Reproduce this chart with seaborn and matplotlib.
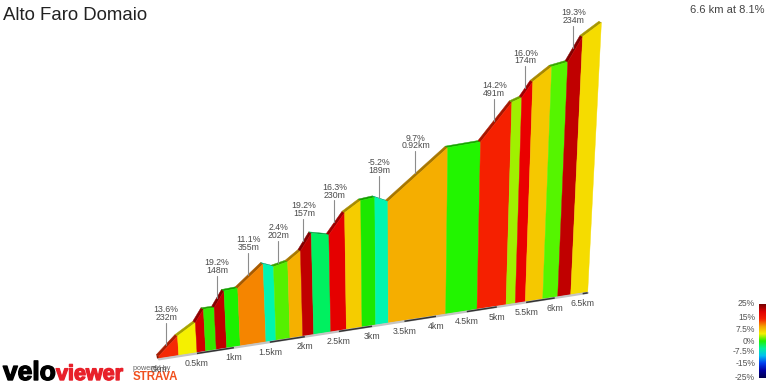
import numpy as np
import pandas as pd
import matplotlib
matplotlib.use('Agg')
import matplotlib.pyplot as plt
import matplotlib.patheffects as pe
import seaborn as sns

# profile: distance (km) and height above the base (m) at each colour change
km = [0.0, 0.258, 0.501, 0.617, 0.760, 0.902, 1.088, 1.446, 1.588, 1.787, 1.970, 2.129, 2.379,
      2.611, 2.847, 3.055, 3.249, 4.156, 4.669, 5.156, 5.314, 5.486, 5.789, 6.053, 6.285, 6.592]
elev = [4, 32.9, 51, 71.8, 71.9, 98.2, 99.7, 136.2, 129.3, 134.9, 151, 180.1, 173.6,
        210.5, 229.4, 232.6, 222.3, 312, 317.4, 388.9, 396.5, 426.1, 453.2, 460.7, 509.3, 535.5]
seg_colors = ['#F52A05', '#F5F000', '#D20000', '#33E800', '#C00000', '#1CF000', '#F58500',
              '#00F5B0', '#55F000', '#F5B000', '#C00000', '#00F060', '#E50000', '#F5CC00',
              '#1CE800', '#00F5B0', '#F5AE00', '#22F500', '#F52000', '#A0F000', '#EA0000',
              '#F5C800', '#55F500', '#C00000', '#F5DC00']

# callouts: which segment they belong to and the two text lines
label_segs = [0, 4, 6, 8, 10, 12, 15, 16, 18, 20, 23]
label_grade = ['13.6%', '19.2%', '11.1%', '2.4%', '19.2%', '16.3%', '-5.2%', '9.7%', '14.2%', '16.0%', '19.3%']
label_len = ['232m', '148m', '355m', '202m', '157m', '230m', '189m', '0.92km', '491m', '174m', '234m']

tick_km = [0, 0.5, 1, 1.5, 2, 2.5, 3, 3.5, 4, 4.5, 5, 5.5, 6, 6.5]
tick_labels = ['0km', '0.5km', '1km', '1.5km', '2km', '2.5km', '3km', '3.5km', '4km', '4.5km',
               '5km', '5.5km', '6km', '6.5km']

cbar_labels = ['25%', '15%', '7.5%', '0%', '-7.5%', '-15%', '-25%']
cbar_y = [303, 318, 330, 341, 352, 363, 378]
cbar_colors = ['#780000', '#E00000', '#F52000', '#F5A000', '#F5F000', '#20F000', '#00F0A0',
               '#00C0F0', '#0040F0', '#0000A0', '#000050']

TXT = '#4a4a4a'


def project(d, e):
    # perspective view of the (distance, height) plane
    d = np.asarray(d, dtype=float)
    e = np.asarray(e, dtype=float)
    t = d / (d + 36)
    bx = 159 + 2770 * t
    by = 358.5 - 0.155 * (bx - 159)
    y = by - 0.595 * (1 - t) * e
    x = bx + (bx - 400) / (3990 - by) * (by - y)
    return x, y


sns.set_theme(style='white')
plt.rcParams['font.family'] = ['Liberation Sans', 'DejaVu Sans']

fig = plt.figure(figsize=(7.68, 3.84), dpi=100)
ax = fig.add_axes([0, 0, 1, 1])

px, py = project(km, elev)
bx, by = project(km, np.zeros(len(km)))

# top ribbon sits behind the front face
for i, c in enumerate(seg_colors):
    rgb = np.array(matplotlib.colors.to_rgb(c))
    ax.fill([px[i], px[i + 1], px[i + 1] - 2.5, px[i] - 2.5],
            [py[i], py[i + 1], py[i + 1] - 1.5, py[i] - 1.5],
            color=rgb * 0.68, lw=0.3, zorder=2)
    ax.fill([bx[i], bx[i + 1], px[i + 1], px[i]], [by[i], by[i + 1], py[i + 1], py[i]],
            color=c, lw=0.3, zorder=3)

# left end cap
ax.fill([px[0], px[0] - 2.5, bx[0] - 2, bx[0]], [py[0], py[0] - 1.5, by[0], by[0]], color='#8a1500', lw=0, zorder=2)

# base line, grey then black every other half km
base_km = np.array(tick_km + [km[-1]])
base_x, base_y = project(base_km, np.zeros(len(base_km)))
base = pd.DataFrame({'x': base_x, 'y': base_y + 0.8})
sns.lineplot(data=base, x='x', y='y', color='#c4c4c4', lw=1.6, sort=False, errorbar=None, ax=ax, zorder=4)
for i in range(1, len(tick_km) - 1, 2):
    ax.plot(base_x[i:i + 2], base_y[i:i + 2] + 0.8, color='#333333', lw=1.1, zorder=5, solid_capstyle='butt')
ax.plot(base_x[-2:], base_y[-2:] + 0.8, color='#333333', lw=1.1, zorder=5, solid_capstyle='butt')

for x, y, t in zip(base_x, base_y, tick_labels):
    ax.text(x, y + 11, t, ha='center', va='center', fontsize=6.3, color=TXT, zorder=8)

# callouts
for s, g, l in zip(label_segs, label_grade, label_len):
    x = (px[s] + px[s + 1]) / 2 - 2.5
    y = (py[s] + py[s + 1]) / 2 - 1.5
    ax.plot([x, x], [y, y - 22], color='#8c8c8c', lw=0.8, zorder=6)
    ax.text(x + 0.5, y - 35, g, ha='center', va='center', fontsize=6.3, color=TXT)
    ax.text(x + 0.5, y - 27.3, l, ha='center', va='center', fontsize=6.3, color=TXT)

# gradient scale
cmap = sns.blend_palette(cbar_colors, as_cmap=True)
ax.imshow(np.linspace(0, 1, 200).reshape(-1, 1), cmap=cmap, aspect='auto', extent=(759, 766, 378, 304), zorder=3)
for t, y in zip(cbar_labels, cbar_y):
    ax.text(755, y, t, ha='right', va='center', fontsize=6.2, color='#555555')

ax.text(3, 15, 'Alto Faro Domaio', ha='left', va='center', fontsize=13.4, color='#222222')
ax.text(764, 10, '6.6 km at 8.1%', ha='right', va='center', fontsize=8.0, color='#444444')

# logos
stroke = [pe.withStroke(linewidth=1.0, foreground='black')]
ax.text(3, 380, 'velo', ha='left', va='baseline', fontsize=19, fontweight='bold', color='black',
        family='Liberation Sans', path_effects=stroke)
stroke = [pe.withStroke(linewidth=1.0, foreground='#E8202A')]
ax.text(56, 380, 'viewer', ha='left', va='baseline', fontsize=15.5, fontweight='bold', color='#E8202A',
        family='Liberation Sans', path_effects=stroke)
ax.text(133, 368.5, 'powered by', ha='left', va='center', fontsize=5.2, color='#666666')
ax.text(133, 377, 'STRAVA', ha='left', va='center', fontsize=8.3, fontweight='bold', color='#F0501E')

ax.set_xlim(0, 768)
ax.set_ylim(384, 0)
ax.set_xlabel('')
ax.set_ylabel('')
ax.axis('off')
fig.savefig('out.png', dpi=100)
